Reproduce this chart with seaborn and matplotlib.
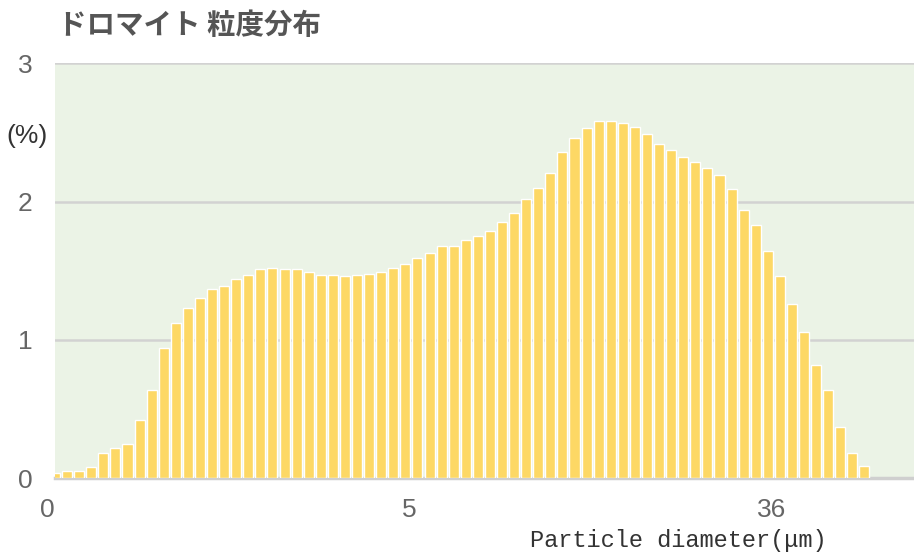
import numpy as np
import pandas as pd
import matplotlib
matplotlib.use("Agg")
import matplotlib.pyplot as plt
import seaborn as sns
from matplotlib import font_manager
from matplotlib.transforms import ScaledTranslation

# values (%)
bar_index = list(range(68))
frequency = [
    0.04, 0.05, 0.05, 0.08, 0.18, 0.22, 0.25, 0.42, 0.64, 0.94,
    1.12, 1.23, 1.30, 1.37, 1.39, 1.44, 1.47, 1.51, 1.52, 1.51,
    1.51, 1.49, 1.47, 1.47, 1.46, 1.47, 1.48, 1.49, 1.52, 1.55,
    1.59, 1.63, 1.68, 1.68, 1.72, 1.75, 1.79, 1.85, 1.92, 2.02,
    2.10, 2.21, 2.36, 2.46, 2.53, 2.58, 2.58, 2.57, 2.54, 2.49,
    2.42, 2.37, 2.32, 2.29, 2.24, 2.19, 2.09, 1.94, 1.83, 1.64,
    1.46, 1.26, 1.06, 0.82, 0.64, 0.37, 0.18, 0.09,
]
x_tick_pos = [0, 30, 60]
x_tick_labels = ["0", "5", "36"]
y_ticks = [0, 1, 2, 3]

BAR_COLOR = "#FDD865"
BG_COLOR = "#EBF3E6"
TEXT_COLOR = "#555555"

available = {f.name for f in font_manager.fontManager.ttflist}
digit_font = "Liberation Sans Narrow" if "Liberation Sans Narrow" in available else "Liberation Sans"
mono_font = "Liberation Mono" if "Liberation Mono" in available else "DejaVu Sans Mono"

sns.set_style("white")
plt.rcParams["font.family"] = ["Noto Sans CJK JP", "DejaVu Sans"]

df = pd.DataFrame({"bin": bar_index, "freq": frequency})

fig = plt.figure(figsize=(9.14, 5.53), dpi=100)
ax = fig.add_axes([55 / 914, 1 - 478.3 / 553, 1 - 55 / 914, (478.3 - 63.3) / 553])

sns.barplot(data=df, x="bin", y="freq", color=BAR_COLOR, saturation=1,
            width=0.83, ax=ax, zorder=3)

ax.set_facecolor(BG_COLOR)
ax.set_xlim(0, 71.1)
ax.set_ylim(0, 3)
ax.set_axisbelow(True)
ax.yaxis.grid(True, color="#D2D2D2", linewidth=1.8)
ax.xaxis.grid(False)
for side in ["top", "right", "left"]:
    ax.spines[side].set_visible(False)
ax.spines["bottom"].set_color("#CFCFCF")
ax.spines["bottom"].set_linewidth(2.5)

ax.set_yticks(y_ticks)
ax.set_yticklabels([str(v) for v in y_ticks], fontfamily=digit_font,
                   fontsize=19, color="#666666")
ax.set_xticks(x_tick_pos)
ax.set_xticklabels(x_tick_labels, fontfamily=digit_font, fontsize=19,
                   color="#666666")
ax.tick_params(axis="y", length=0, pad=16)
ax.tick_params(axis="x", length=0, pad=14)

# labels in the original sit slightly left of the bar centres
shift = ScaledTranslation(-8 / 100, 0, fig.dpi_scale_trans)
for lbl in ax.get_xticklabels():
    lbl.set_transform(lbl.get_transform() + shift)

ax.set_xlabel("")
ax.set_ylabel("")

fig.text(0.063, 1 - 26 / 553, "ドロマイト 粒度分布", fontsize=20.5,
         fontweight="bold", color=TEXT_COLOR, va="center", ha="left")
fig.text(27 / 914, 1 - 136 / 553, "(%)", fontfamily=digit_font, fontsize=19,
         color="#333333", va="center", ha="center")
fig.text(530 / 914, 1 - 541 / 553, "Particle diameter(μm)", fontfamily=mono_font,
         fontsize=17, color="#333333", va="center", ha="left")

fig.savefig("out.png", dpi=100, facecolor="white")
plt.close(fig)
